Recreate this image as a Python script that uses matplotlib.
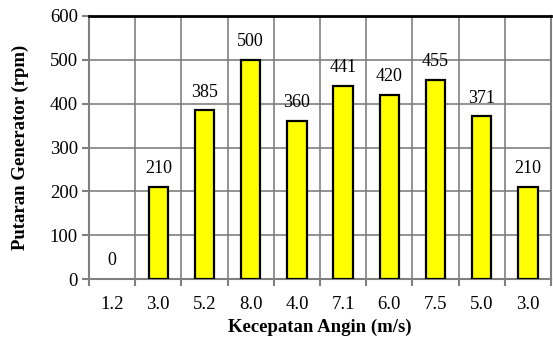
import matplotlib
matplotlib.use('Agg')
import matplotlib.pyplot as plt
import numpy as np

# wind speed categories and generator rpm
kecepatan = ['1.2', '3.0', '5.2', '8.0', '4.0', '7.1', '6.0', '7.5', '5.0', '3.0']
putaran = [0, 210, 385, 500, 360, 441, 420, 455, 371, 210]

plt.rcParams['font.family'] = ['Liberation Serif', 'DejaVu Serif']

fig = plt.figure(figsize=(5.53, 3.38), dpi=100)
ax = fig.add_axes([89 / 553, 1 - 279 / 338, (551 - 89) / 553, (279 - 16) / 338])

x = np.arange(len(kecepatan))
bars = ax.bar(x, putaran, width=0.42, color='#ffff00', edgecolor='black',
              linewidth=1.6, zorder=3)
# a zero-height bar leaves no outline on the axis
for b in bars:
    if b.get_height() == 0:
        b.set_linewidth(0)

for xi, v in zip(x, putaran):
    ax.annotate(str(v), (xi, v), xytext=(0, 7), textcoords='offset points',
                ha='center', va='bottom', fontsize=13)

ax.set_xlim(-0.5, len(kecepatan) - 0.5)
ax.set_ylim(0, 600)
ax.set_yticks(range(0, 601, 100))
ax.set_xticks(x)
ax.set_xticklabels(kecepatan, fontsize=13.5)
ax.tick_params(axis='x', length=0, pad=12)
ax.tick_params(axis='y', labelsize=13.5, length=5, color='#808080', width=1.5, pad=3)

# tick marks between categories, below the axis
ax.set_xticks(np.arange(-0.5, len(kecepatan)), minor=True)
ax.tick_params(axis='x', which='minor', length=5, color='#808080', width=1.5)

ax.grid(True, axis='y', color='#808080', linewidth=1.2, zorder=0)
ax.grid(True, axis='x', which='minor', color='#808080', linewidth=1.2, zorder=0)

for side in ['left', 'bottom', 'right']:
    ax.spines[side].set_color('#808080')
    ax.spines[side].set_linewidth(1.5)
ax.spines['top'].set_color('black')
ax.spines['top'].set_linewidth(2)

ax.set_xlabel('Kecepatan Angin (m/s)', fontsize=13.5, fontweight='bold', labelpad=4)
ax.set_ylabel('Putaran Generator (rpm)', fontsize=13.5, fontweight='bold', labelpad=15)

fig.savefig('out.png', dpi=100)
